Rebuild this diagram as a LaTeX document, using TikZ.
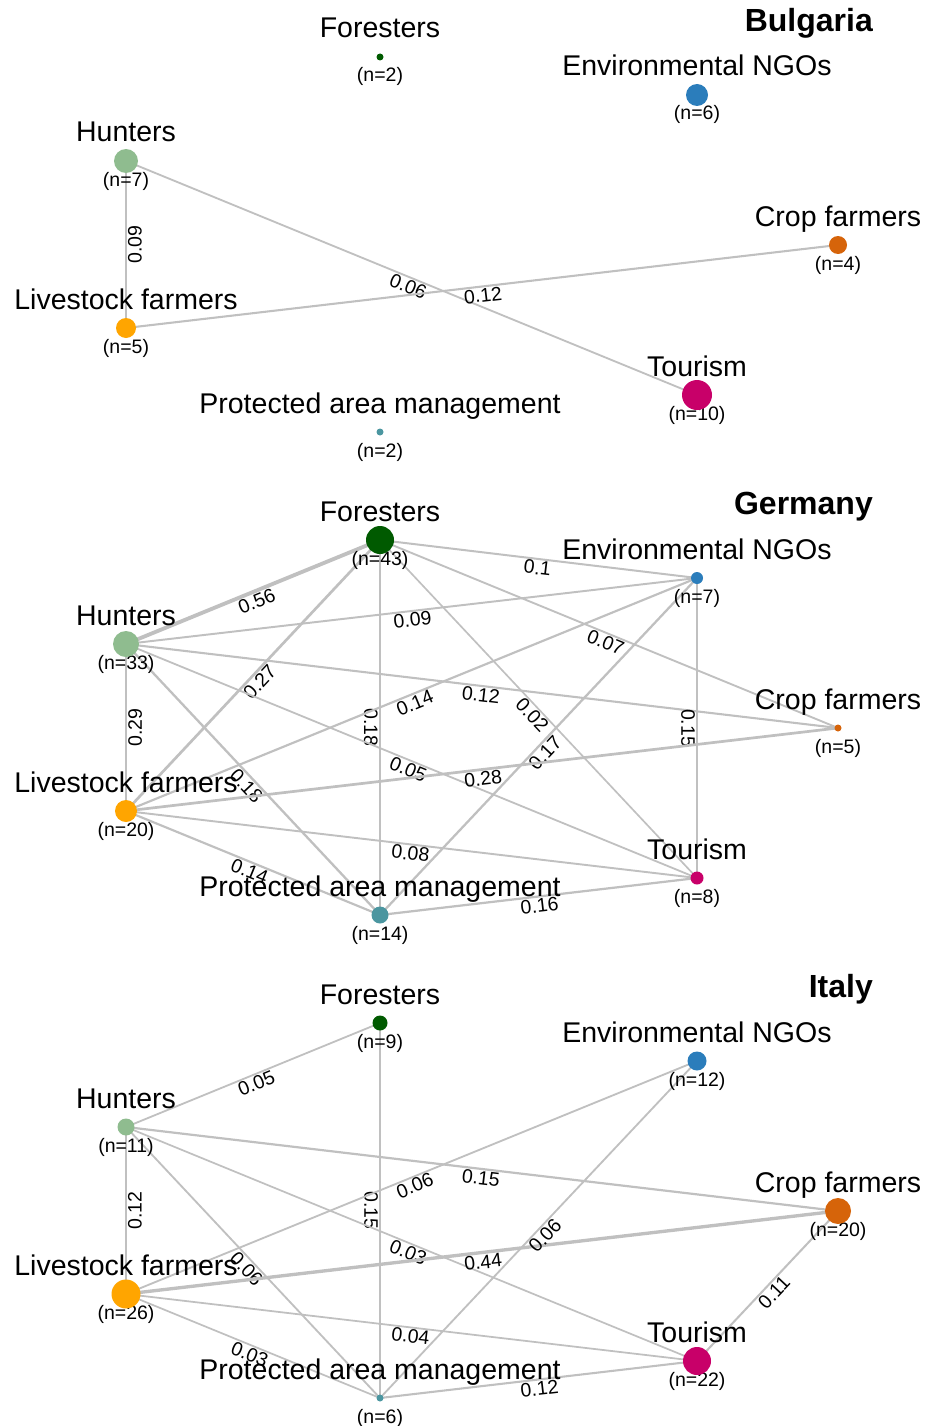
\documentclass[tikz,border=0pt]{standalone}
\usepackage{fontspec}
\setmainfont{Liberation Sans}
\usepackage{xcolor}
\usepackage{tikz}
\usetikzlibrary{backgrounds}

\definecolor{cfor}{RGB}{0,90,0}
\definecolor{cngo}{RGB}{43,125,187}
\definecolor{chun}{RGB}{143,188,143}
\definecolor{ccrop}{RGB}{214,100,10}
\definecolor{clive}{RGB}{255,165,0}
\definecolor{ctour}{RGB}{200,0,105}
\definecolor{cpam}{RGB}{75,150,160}
\definecolor{tiegray}{RGB}{192,192,192}

\begin{document}
\begin{tikzpicture}[
  x=1pt, y=-1pt,
  grp/.style={font=\fontsize{28.5}{34}\selectfont, anchor=base, inner sep=0pt},
  cnt/.style={font=\fontsize{19.5}{23}\selectfont, anchor=base, inner sep=0pt},
  ttl/.style={font=\fontsize{32}{38}\selectfont\bfseries, anchor=base east, inner sep=0pt},
  dot/.style={circle, fill=#1, draw=none, inner sep=0pt},
  tie/.style={draw=tiegray, line width={1.6pt+4pt*#1}},
  wt/.style={font=\fontsize{19.5}{23}\selectfont, sloped, below, inner sep=1pt, midway},
]
\useasboundingbox (0,0) rectangle (924,1426);

% === Bulgaria ===
\node[ttl] (bg-title) at (873,31.5) {Bulgaria};

\node[grp] (bg-for-name) at (380,38) {Foresters};
\node[cnt] (bg-for-n) at (380,82) {(n=2)};
\node[dot=cfor, minimum size=7pt] (bg-for) at (380,57) {};

\node[grp] (bg-ngo-name) at (697,76) {Environmental NGOs};
\node[cnt] (bg-ngo-n) at (697,120) {(n=6)};
\node[dot=cngo, minimum size=22pt] (bg-ngo) at (697,95) {};

\node[grp] (bg-hun-name) at (126,142) {Hunters};
\node[cnt] (bg-hun-n) at (126,186) {(n=7)};
\node[dot=chun, minimum size=24pt] (bg-hun) at (126,161) {};

\node[grp] (bg-crop-name) at (838,226) {Crop farmers};
\node[cnt] (bg-crop-n) at (838,270) {(n=4)};
\node[dot=ccrop, minimum size=18pt] (bg-crop) at (838,245) {};

\node[grp] (bg-live-name) at (126,309) {Livestock farmers};
\node[cnt] (bg-live-n) at (126,353) {(n=5)};
\node[dot=clive, minimum size=20pt] (bg-live) at (126,328) {};

\node[grp] (bg-tour-name) at (697,376) {Tourism};
\node[cnt] (bg-tour-n) at (697,420) {(n=10)};
\node[dot=ctour, minimum size=30pt] (bg-tour) at (697,395) {};

\node[grp] (bg-pam-name) at (380,413) {Protected area management};
\node[cnt] (bg-pam-n) at (380,457) {(n=2)};
\node[dot=cpam, minimum size=7pt] (bg-pam) at (380,432) {};

\begin{pgfonlayer}{background}
\draw[tie=0.09] (bg-live.center) -- node[wt] {0.09} (bg-hun.center);
\draw[tie=0.06] (bg-hun.center) -- node[wt] {0.06} (bg-tour.center);
\draw[tie=0.12] (bg-live.center) -- node[wt] {0.12} (bg-crop.center);
\end{pgfonlayer}

% === Germany ===
\begin{scope}[shift={(0,483)}]
\node[ttl] (de-title) at (873,31.5) {Germany};

\node[grp] (de-for-name) at (380,38) {Foresters};
\node[cnt] (de-for-n) at (380,82) {(n=43)};
\node[dot=cfor, minimum size=28pt] (de-for) at (380,57) {};

\node[grp] (de-ngo-name) at (697,76) {Environmental NGOs};
\node[cnt] (de-ngo-n) at (697,120) {(n=7)};
\node[dot=cngo, minimum size=12pt] (de-ngo) at (697,95) {};

\node[grp] (de-hun-name) at (126,142) {Hunters};
\node[cnt] (de-hun-n) at (126,186) {(n=33)};
\node[dot=chun, minimum size=26pt] (de-hun) at (126,161) {};

\node[grp] (de-crop-name) at (838,226) {Crop farmers};
\node[cnt] (de-crop-n) at (838,270) {(n=5)};
\node[dot=ccrop, minimum size=7pt] (de-crop) at (838,245) {};

\node[grp] (de-live-name) at (126,309) {Livestock farmers};
\node[cnt] (de-live-n) at (126,353) {(n=20)};
\node[dot=clive, minimum size=22pt] (de-live) at (126,328) {};

\node[grp] (de-tour-name) at (697,376) {Tourism};
\node[cnt] (de-tour-n) at (697,420) {(n=8)};
\node[dot=ctour, minimum size=13pt] (de-tour) at (697,395) {};

\node[grp] (de-pam-name) at (380,413) {Protected area management};
\node[cnt] (de-pam-n) at (380,457) {(n=14)};
\node[dot=cpam, minimum size=17pt] (de-pam) at (380,432) {};
\end{scope}

\begin{pgfonlayer}{background}
\draw[tie=0.56] (de-hun.center) -- node[wt] {0.56} (de-for.center);
\draw[tie=0.1]  (de-for.center) -- node[wt] {0.1} (de-ngo.center);
\draw[tie=0.27] (de-live.center) -- node[wt] {0.27} (de-for.center);
\draw[tie=0.18] (de-for.center) -- node[wt] {0.18} (de-pam.center);
\draw[tie=0.02] (de-for.center) -- node[wt] {0.02} (de-tour.center);
\draw[tie=0.07] (de-for.center) -- node[wt] {0.07} (de-crop.center);
\draw[tie=0.09] (de-hun.center) -- node[wt] {0.09} (de-ngo.center);
\draw[tie=0.12] (de-hun.center) -- node[wt] {0.12} (de-crop.center);
\draw[tie=0.29] (de-live.center) -- node[wt] {0.29} (de-hun.center);
\draw[tie=0.18] (de-hun.center) -- node[wt] {0.18} (de-pam.center);
\draw[tie=0.05] (de-hun.center) -- node[wt] {0.05} (de-tour.center);
\draw[tie=0.14] (de-live.center) -- node[wt] {0.14} (de-ngo.center);
\draw[tie=0.17] (de-pam.center) -- node[wt] {0.17} (de-ngo.center);
\draw[tie=0.15] (de-ngo.center) -- node[wt] {0.15} (de-tour.center);
\draw[tie=0.08] (de-live.center) -- node[wt] {0.08} (de-tour.center);
\draw[tie=0.14] (de-live.center) -- node[wt] {0.14} (de-pam.center);
\draw[tie=0.16] (de-pam.center) -- node[wt] {0.16} (de-tour.center);
\draw[tie=0.28] (de-live.center) -- node[wt] {0.28} (de-crop.center);
\end{pgfonlayer}

% === Italy ===
\begin{scope}[shift={(0,966)}]
\node[ttl] (it-title) at (873,31.5) {Italy};

\node[grp] (it-for-name) at (380,38) {Foresters};
\node[cnt] (it-for-n) at (380,82) {(n=9)};
\node[dot=cfor, minimum size=15pt] (it-for) at (380,57) {};

\node[grp] (it-ngo-name) at (697,76) {Environmental NGOs};
\node[cnt] (it-ngo-n) at (697,120) {(n=12)};
\node[dot=cngo, minimum size=19pt] (it-ngo) at (697,95) {};

\node[grp] (it-hun-name) at (126,142) {Hunters};
\node[cnt] (it-hun-n) at (126,186) {(n=11)};
\node[dot=chun, minimum size=17pt] (it-hun) at (126,161) {};

\node[grp] (it-crop-name) at (838,226) {Crop farmers};
\node[cnt] (it-crop-n) at (838,270) {(n=20)};
\node[dot=ccrop, minimum size=26pt] (it-crop) at (838,245) {};

\node[grp] (it-live-name) at (126,309) {Livestock farmers};
\node[cnt] (it-live-n) at (126,353) {(n=26)};
\node[dot=clive, minimum size=29pt] (it-live) at (126,328) {};

\node[grp] (it-tour-name) at (697,376) {Tourism};
\node[cnt] (it-tour-n) at (697,420) {(n=22)};
\node[dot=ctour, minimum size=28pt] (it-tour) at (697,395) {};

\node[grp] (it-pam-name) at (380,413) {Protected area management};
\node[cnt] (it-pam-n) at (380,457) {(n=6)};
\node[dot=cpam, minimum size=7pt] (it-pam) at (380,432) {};
\end{scope}

\begin{pgfonlayer}{background}
\draw[tie=0.05] (it-hun.center) -- node[wt] {0.05} (it-for.center);
\draw[tie=0.15] (it-for.center) -- node[wt] {0.15} (it-pam.center);
\draw[tie=0.15] (it-hun.center) -- node[wt] {0.15} (it-crop.center);
\draw[tie=0.12] (it-live.center) -- node[wt] {0.12} (it-hun.center);
\draw[tie=0.06] (it-hun.center) -- node[wt] {0.06} (it-pam.center);
\draw[tie=0.03] (it-hun.center) -- node[wt] {0.03} (it-tour.center);
\draw[tie=0.06] (it-live.center) -- node[wt] {0.06} (it-ngo.center);
\draw[tie=0.44] (it-live.center) -- node[wt] {0.44} (it-crop.center);
\draw[tie=0.06] (it-pam.center) -- node[wt] {0.06} (it-ngo.center);
\draw[tie=0.04] (it-live.center) -- node[wt] {0.04} (it-tour.center);
\draw[tie=0.03] (it-live.center) -- node[wt] {0.03} (it-pam.center);
\draw[tie=0.12] (it-pam.center) -- node[wt] {0.12} (it-tour.center);
\draw[tie=0.11] (it-tour.center) -- node[wt] {0.11} (it-crop.center);
\end{pgfonlayer}

\end{tikzpicture}
\end{document}
